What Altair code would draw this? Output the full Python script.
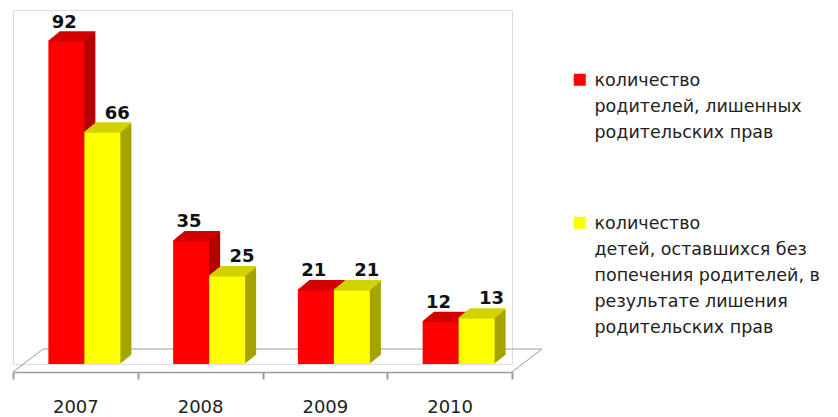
import json
import altair as alt
import pandas as pd

# ---- data -------------------------------------------------------------
years = ["2007", "2008", "2009", "2010"]
parents = [92, 35, 21, 12]      # количество родителей, лишенных родительских прав
children = [66, 25, 21, 13]     # количество детей, оставшихся без попечения родителей
series_lines = [
    ["количество", "родителей, лишенных", "родительских прав"],
    ["количество", "детей, оставшихся без", "попечения родителей, в",
     "результате лишения", "родительских прав"],
]
series_names = [" ".join(l) for l in series_lines]

# ---- styles -----------------------------------------------------------
front_colors = ["#FF0000", "#FFFF00"]
side_colors = ["#B40000", "#A4A400"]
top_colors = ["#D20000", "#D2D200"]
FLOOR = "#9C9C9C"

rows = []
for s, vals in zip(series_names, [parents, children]):
    for yr, v in zip(years, vals):
        rows.append({"year": yr, "series": s, "value": v})
df = pd.DataFrame(rows)

W, H = 499, 354
TOTAL_W, TOTAL_H = 822, 409
BAR = 36
offsets = [-9, 27]
label_dx = [-11, 42]
DX, DY, STEPS = 11, 9, 11

x = alt.X(
    "year:N", sort=years, title=None,
    scale=alt.Scale(paddingInner=0, paddingOuter=0),
    axis=alt.Axis(
        domainColor=FLOOR, domainWidth=1.5, tickColor=FLOOR, tickWidth=2,
        tickSize=7, tickBand="extent", labelFont="DejaVu Sans",
        labelFontSize=18, labelColor="#222222", labelPadding=19,
        offset=8, labelAngle=0, grid=False,
    ),
)
y = alt.Y("value:Q", scale=alt.Scale(domain=[0, 101]), axis=None)

label_expr = "datum.value == {} ? {} : {}".format(
    json.dumps(series_names[0], ensure_ascii=False),
    json.dumps(series_lines[0], ensure_ascii=False),
    json.dumps(series_lines[1], ensure_ascii=False),
)

color = alt.Color(
    "series:N",
    scale=alt.Scale(domain=series_names, range=front_colors),
    legend=alt.Legend(
        orient="none", legendX=558, legendY=67, title=None,
        symbolType="M-1,-2H1V0H-1Z", symbolSize=144, symbolStrokeWidth=0,
        labelFont="DejaVu Sans", labelFontSize=17.5, labelColor="#222222",
        labelLimit=400, labelOffset=6, labelBaseline="alphabetic",
        rowPadding=72, labelExpr=label_expr, padding=0,
    ),
)

one = pd.DataFrame({"a": [0]})
floor = [
    alt.Chart(one).mark_rule(color=FLOOR, strokeWidth=1).encode(
        x=alt.value(30), x2=alt.value(W + 30), y=alt.value(H - 15)),
    alt.Chart(one).mark_rule(color=FLOOR, strokeWidth=1).encode(
        x=alt.value(0), x2=alt.value(30), y=alt.value(H + 8), y2=alt.value(H - 15)),
    alt.Chart(one).mark_rule(color=FLOOR, strokeWidth=1).encode(
        x=alt.value(W), x2=alt.value(W + 30), y=alt.value(H + 8), y2=alt.value(H - 15)),
]

layers = list(floor)
for k in range(2):
    base = alt.Chart(df).transform_filter(alt.datum.series == series_names[k])
    off = offsets[k]
    for i in range(STEPS, 0, -1):
        dy = DY * i / STEPS
        layers.append(base.mark_bar(color=side_colors[k], width=BAR,
                                    xOffset=off + i, yOffset=-dy, y2Offset=-dy)
                      .encode(x=x, y=y))
    for i in range(STEPS, -1, -1):
        dy = DY * i / STEPS
        layers.append(base.mark_bar(color=top_colors[k], width=BAR,
                                    xOffset=off + i, yOffset=-dy - 1.3,
                                    y2Offset=-dy + 0.3)
                      .encode(x=x, y=y, y2=alt.Y2("value:Q")))
    layers.append(base.mark_bar(width=BAR, xOffset=off, opacity=1)
                  .encode(x=x, y=y, color=color))
    layers.append(base.mark_text(dx=label_dx[k], dy=-14, baseline="alphabetic",
                                 font="DejaVu Sans", fontWeight="bold",
                                 fontSize=18, color="#111111")
                  .encode(x=x, y=y, text="value:Q"))

chart = (
    alt.layer(*layers)
    .properties(width=W, height=H,
                autosize=alt.AutoSizeParams(type="none"),
                padding={"left": 5, "top": 2,
                         "right": TOTAL_W - 5 - W, "bottom": TOTAL_H - 2 - H},
                background="white")
    .configure_view(stroke=None)
    .configure(style={"guide-label": {"lineHeight": 26}})
)

chart.save("out.html", embed_options={"renderer": "svg", "actions": False})
